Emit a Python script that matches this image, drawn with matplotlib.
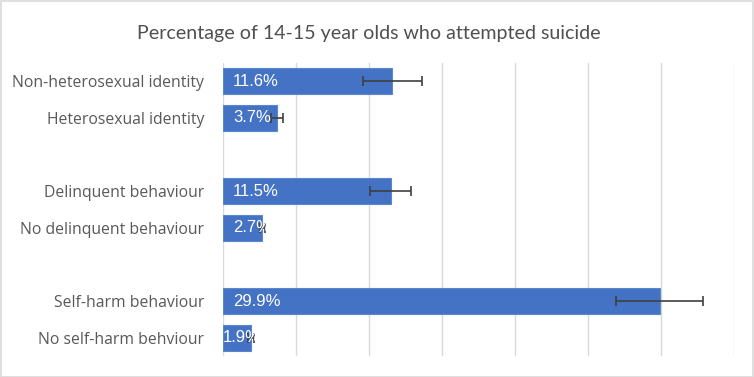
import matplotlib
matplotlib.use("Agg")
import matplotlib.pyplot as plt
from matplotlib.patches import Rectangle

categories = ["Non-heterosexual identity", "Heterosexual identity",
              "Delinquent behaviour", "No delinquent behaviour",
              "Self-harm behaviour", "No self-harm behviour"]
values = [11.6, 3.7, 11.5, 2.7, 29.9, 1.9]
errors = [2.0, 0.42, 1.4, 0.15, 3.0, 0.2]
positions = [0, 1, 3, 4, 6, 7]
xticks = [0, 5, 10, 15, 20, 25, 30, 35]
title = "Percentage of 14-15 year olds who attempted suicide"

fig = plt.figure(figsize=(7.54, 3.77), dpi=100)
ax = fig.add_axes([223/754, 1-356/377, (734-223)/754, (356-63)/377])

ax.barh(positions, values, height=0.71, color="#4472C4", edgecolor="#5B86D0",
        linewidth=0.8, zorder=3)
ax.errorbar(values, positions, xerr=errors, fmt="none", ecolor="#404040",
            elinewidth=1.2, capsize=3.5, capthick=1.2, zorder=4)
for p, v in zip(positions, values):
    ax.text(0.7 if v > 2 else -0.05, p, f"{v}%", color="white", va="center",
            ha="left", fontsize=12, family=["Liberation Sans"], zorder=5)

ax.set_xlim(0, 35)
ax.set_ylim(7.5, -0.5)
ax.set_xticks(xticks)
ax.set_yticks(positions)
ax.set_yticklabels(categories, fontsize=11.3, color="#595959", family=["Open Sans"])
ax.tick_params(axis="x", labelbottom=False, length=0)
ax.tick_params(axis="y", length=0, pad=13.7)
ax.grid(axis="x", color="#d9d9d9", linewidth=1, zorder=0)
for s in ax.spines.values():
    s.set_visible(False)

fig.text(369/754, 1-33/377, title, ha="center", va="center", fontsize=14.1,
         color="#505050", family=["Lato"])

fig.patches.append(Rectangle((0.5/754, 0.5/377), 1-1.5/754, 1-1.5/377,
                             transform=fig.transFigure, fill=False,
                             edgecolor="#d9d9d9", linewidth=1.2))

fig.savefig("out.png", dpi=100)
